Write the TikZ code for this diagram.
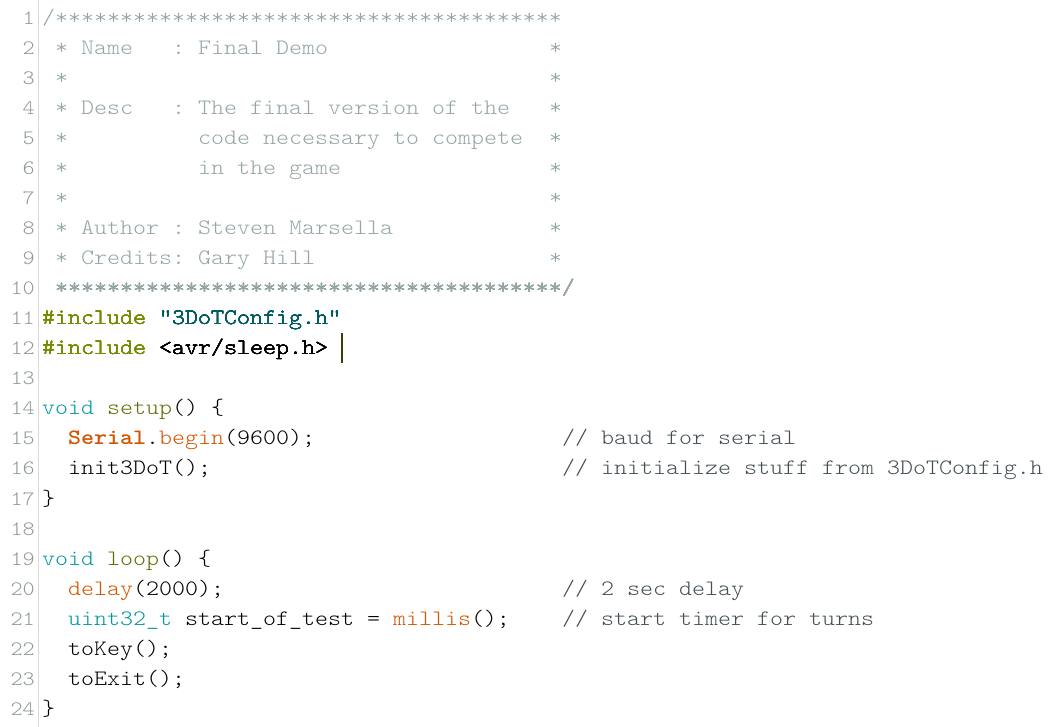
\documentclass[tikz,border=0pt]{standalone}
\usepackage{fontspec}
\setmonofont{lmmonolt10-regular.otf}[FakeStretch=1.125, BoldFont=lmmonolt10-bold.otf]
\usepackage{xcolor}
\usepackage{tikz}
\usetikzlibrary{positioning}
\definecolor{cmtblock}{HTML}{95A5A6}
\definecolor{cmtline}{HTML}{434F54}
\definecolor{lnumgray}{HTML}{8F999A}
\definecolor{prepro}{HTML}{728E00}
\definecolor{strteal}{HTML}{005C5F}
\definecolor{kwteal}{HTML}{00979C}
\definecolor{fnolive}{HTML}{5E6D03}
\definecolor{lborange}{HTML}{D35400}
\definecolor{caretcol}{HTML}{3F3A0A}
\tikzset{
  codetext/.style={inner sep=0pt, anchor=base west, font=\ttfamily\fontsize{22}{26}\selectfont},
  lnum/.style={inner sep=0pt, anchor=base east, text=lnumgray, font=\ttfamily\fontsize{20.5}{26}\selectfont},
  blk/.style={codetext, text=cmtblock},
  cmt/.style={codetext, text=cmtline}
}
% line #1, column #2
\newcommand\codeat[4][codetext]{\node[#1] (c#2-#3) at ({42+13*#3},{-25-30*(#2-1)}) {#4};}

\begin{document}
\begin{tikzpicture}[x=1pt,y=1pt]
   \useasboundingbox (0,0) rectangle (1053,-727);
   \draw[color=black!15, line width=1pt] (38,0) -- (38,-727);
   \foreach \n in {1,...,24}
     \node[lnum] (n\n) at (35,{-25-30*(\n-1)}) {\n};
   % header comment
   \codeat[blk]{1}{0}{/***************************************}
   \codeat[blk]{2}{1}{* Name} \codeat[blk]{2}{10}{: Final Demo}
   \codeat[blk]{3}{1}{*}
   \codeat[blk]{4}{1}{* Desc} \codeat[blk]{4}{10}{: The final version of the}
   \codeat[blk]{5}{1}{*} \codeat[blk]{5}{12}{code necessary to compete}
   \codeat[blk]{6}{1}{*} \codeat[blk]{6}{12}{in the game}
   \codeat[blk]{7}{1}{*}
   \codeat[blk]{8}{1}{* Author : Steven Marsella}
   \codeat[blk]{9}{1}{* Credits: Gary Hill}
   \foreach \l in {2,...,9}
     \codeat[blk]{\l}{39}{*}
   \codeat[blk]{10}{1}{***************************************/}
   % includes
   \codeat{11}{0}{\textcolor{prepro}{\#include} \textcolor{strteal}{"3DoTConfig.h"}}
   \codeat{12}{0}{\textcolor{prepro}{\#include} <avr/sleep.h>}
   \fill[caretcol] (341,-333) rectangle (343,-363);
   % setup
   \codeat{14}{0}{\textcolor{kwteal}{void} \textcolor{fnolive}{setup}() \{}
   \codeat{15}{2}{\textcolor{lborange}{\textbf{Serial}}.\textcolor{lborange}{begin}(9600);}
   \codeat[cmt]{15}{40}{// baud for serial}
   \codeat{16}{2}{init3DoT();}
   \codeat[cmt]{16}{40}{// initialize stuff from 3DoTConfig.h}
   \codeat{17}{0}{\}}
   % loop
   \codeat{19}{0}{\textcolor{kwteal}{void} \textcolor{fnolive}{loop}() \{}
   \codeat{20}{2}{\textcolor{lborange}{delay}(2000);}
   \codeat[cmt]{20}{40}{// 2 sec delay}
   \codeat{21}{2}{\textcolor{kwteal}{uint32\_t} start\_of\_test = \textcolor{lborange}{millis}();}
   \codeat[cmt]{21}{40}{// start timer for turns}
   \codeat{22}{2}{toKey();}
   \codeat{23}{2}{toExit();}
   \codeat{24}{0}{\}}
  \end{tikzpicture}
\end{document}
